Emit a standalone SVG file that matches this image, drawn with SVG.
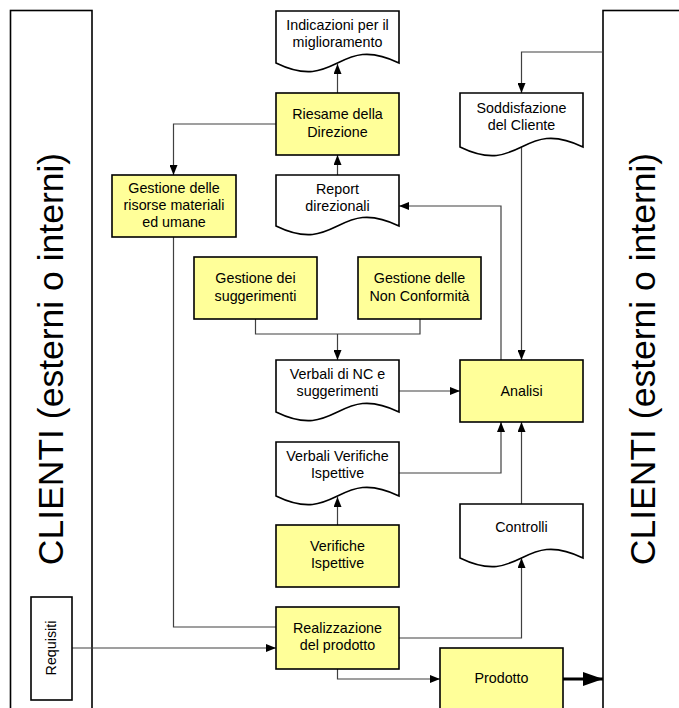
<svg xmlns="http://www.w3.org/2000/svg" width="679" height="708" viewBox="0 0 679 708">
<defs>
<style>
.box{fill:#FFFF99;stroke:#000;stroke-width:1.6}
.doc{fill:#fff;stroke:#000;stroke-width:1.6}
.band{fill:#fff;stroke:#000;stroke-width:1.6}
.t{font-family:"Liberation Sans",Arial,sans-serif;font-size:14.3px;text-anchor:middle;fill:#000}
.big{font-family:"Liberation Sans",Arial,sans-serif;font-size:35.5px;text-anchor:middle;fill:#000}
.c{fill:none;stroke:#404040;stroke-width:1.2}
.thick{fill:none;stroke:#000;stroke-width:3}
</style>
<marker id="ah" viewBox="0 0 10 8" refX="10" refY="4" markerWidth="10" markerHeight="8" orient="auto" markerUnits="userSpaceOnUse"><path d="M0,0 L10,4 L0,8 z" fill="#000"/></marker>
<marker id="ahb" viewBox="0 0 20 14" refX="20" refY="7" markerWidth="20" markerHeight="14" orient="auto" markerUnits="userSpaceOnUse"><path d="M0,0 L20,7 L0,14 z" fill="#000"/></marker>
</defs>

<g id="clienti-sx">
<rect class="band" x="10.5" y="10.5" width="81.5" height="720"/>
<text class="big" transform="translate(63,359) rotate(-90)">CLIENTI (esterni o interni)</text>
</g>
<g id="clienti-dx">
<rect class="band" x="603" y="10.5" width="100" height="720"/>
<text class="big" transform="translate(655,359) rotate(-90)">CLIENTI (esterni o interni)</text>
</g>

<g id="connectors">
<path class="c" d="M337.5,93 V64" marker-end="url(#ah)"/>
<path class="c" d="M337.5,175 V155" marker-end="url(#ah)"/>
<path class="c" d="M276,124 H173.5 V175" marker-end="url(#ah)"/>
<path class="c" d="M603,52 H521.5 V93" marker-end="url(#ah)"/>
<path class="c" d="M521.5,147 V360" marker-end="url(#ah)"/>
<path class="c" d="M501,360 V206 H399" marker-end="url(#ah)"/>
<path class="c" d="M255.5,319 V334 H420 V319"/>
<path class="c" d="M337.5,334 V360" marker-end="url(#ah)"/>
<path class="c" d="M399,391 H460" marker-end="url(#ah)"/>
<path class="c" d="M399,473 H501 V422" marker-end="url(#ah)"/>
<path class="c" d="M521.5,504 V422" marker-end="url(#ah)"/>
<path class="c" d="M337.5,525 V497" marker-end="url(#ah)"/>
<path class="c" d="M399,638 H521.5 V558" marker-end="url(#ah)"/>
<path class="c" d="M173.5,237 V627 H276"/>
<path class="c" d="M72,648 H276" marker-end="url(#ah)"/>
<path class="c" d="M337.5,669 V679 H440" marker-end="url(#ah)"/>
<path class="thick" d="M563,679 H603" marker-end="url(#ahb)"/>
</g>

<g id="indicazioni">
<path class="doc" d="M276,11 H399 V63 C337.5,33 337.5,93 276,63 Z"/>
<text class="t" x="337.5" y="30">Indicazioni per il</text>
<text class="t" x="337.5" y="47">miglioramento</text>
</g>
<g id="riesame">
<rect class="box" x="276" y="93" width="123" height="62"/>
<text class="t" x="337.5" y="119">Riesame della</text>
<text class="t" x="337.5" y="137">Direzione</text>
</g>
<g id="report">
<path class="doc" d="M276,175 H399 V226 C337.5,196 337.5,256 276,226 Z"/>
<text class="t" x="337.5" y="194">Report</text>
<text class="t" x="337.5" y="211">direzionali</text>
</g>
<g id="soddisfazione">
<path class="doc" d="M460,93 H583 V147 C521.5,117 521.5,177 460,147 Z"/>
<text class="t" x="521.5" y="113">Soddisfazione</text>
<text class="t" x="521.5" y="130">del Cliente</text>
</g>
<g id="risorse">
<rect class="box" x="112" y="175" width="124" height="62"/>
<text class="t" x="174" y="193">Gestione delle</text>
<text class="t" x="174" y="210">risorse materiali</text>
<text class="t" x="174" y="227">ed umane</text>
</g>
<g id="suggerimenti">
<rect class="box" x="194" y="257" width="123" height="62"/>
<text class="t" x="255.5" y="283">Gestione dei</text>
<text class="t" x="255.5" y="301">suggerimenti</text>
</g>
<g id="nonconformita">
<rect class="box" x="358" y="257" width="123" height="62"/>
<text class="t" x="419.5" y="283">Gestione delle</text>
<text class="t" x="419.5" y="301">Non Conformità</text>
</g>
<g id="verbali-nc">
<path class="doc" d="M276,360 H399 V412 C337.5,382 337.5,442 276,412 Z"/>
<text class="t" x="337.5" y="379">Verbali di NC e</text>
<text class="t" x="337.5" y="396">suggerimenti</text>
</g>
<g id="analisi">
<rect class="box" x="460" y="360" width="123" height="62"/>
<text class="t" x="521.5" y="396">Analisi</text>
</g>
<g id="verbali-verifiche">
<path class="doc" d="M276,442 H399 V496 C337.5,466 337.5,526 276,496 Z"/>
<text class="t" x="337.5" y="461">Verbali Verifiche</text>
<text class="t" x="337.5" y="478">Ispettive</text>
</g>
<g id="verifiche">
<rect class="box" x="276" y="525" width="123" height="62"/>
<text class="t" x="337.5" y="551">Verifiche</text>
<text class="t" x="337.5" y="568">Ispettive</text>
</g>
<g id="controlli">
<path class="doc" d="M460,504 H583 V558 C521.5,528 521.5,588 460,558 Z"/>
<text class="t" x="521.5" y="532">Controlli</text>
</g>
<g id="realizzazione">
<rect class="box" x="276" y="607" width="123" height="62"/>
<text class="t" x="337.5" y="633">Realizzazione</text>
<text class="t" x="337.5" y="650">del prodotto</text>
</g>
<g id="prodotto">
<rect class="box" x="440" y="648" width="123" height="80"/>
<text class="t" x="501.5" y="683">Prodotto</text>
</g>
<g id="requisiti">
<rect x="31" y="597" width="41" height="103" fill="#fff" stroke="#000" stroke-width="1.6"/>
<text class="t" transform="translate(56,648) rotate(-90)">Requisiti</text>
</g>
</svg>
